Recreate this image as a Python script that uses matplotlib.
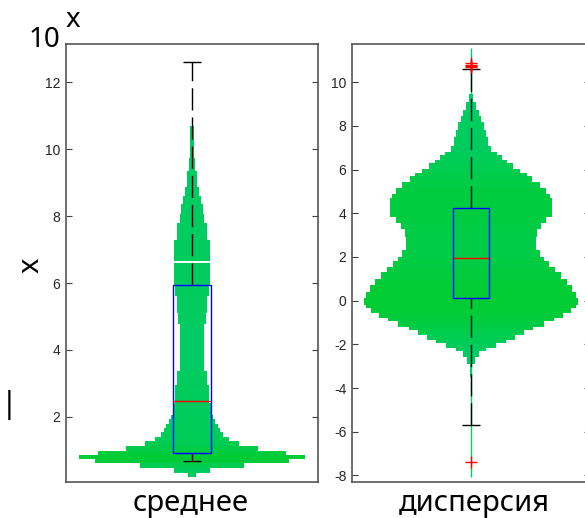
import numpy as np
import matplotlib
matplotlib.use('Agg')
import matplotlib.pyplot as plt

plt.rcParams['axes.unicode_minus'] = False
plt.rcParams['font.family'] = ['Liberation Sans', 'DejaVu Sans']

# "среднее": ступенчатая гистограмма (границы бинов и плотность)
mean_edges = [0.20, 0.32, 0.47, 0.62, 0.74, 0.86, 0.98, 1.14, 1.28, 1.41, 1.55,
              1.67, 1.79, 1.94, 2.06, 2.40, 2.96, 3.36, 4.78, 5.11, 5.60, 5.90,
              7.28, 7.80, 8.08, 8.37, 8.59, 8.87, 9.34, 9.74, 10.71]
mean_density = [4, 17.7, 52, 97, 113, 94, 66, 47, 36.5, 31, 28, 26, 23, 21, 19,
                17.3, 15, 12, 13.7, 15.3, 16.7, 17.7, 14.5, 12.3, 10.5, 9, 7.3,
                5, 2.7, 1.5]
mean_box = (0.92, 2.47, 5.94)      # q1, медиана, q3
mean_whiskers = (0.67, 12.62)
mean_mean = 6.64
mean_outliers = []

# "дисперсия"
var_edges = [-3.5, -2.9, -2.6, -2.3, -2.15, -1.95, -1.8, -1.55, -1.35, -1.2,
             -0.95, -0.8, -0.55, -0.35, -0.2, 0.1, 0.4, 0.7, 1.0, 1.3, 1.55,
             1.8, 2.0, 2.3, 2.9, 3.3, 3.55, 3.85, 4.7, 4.9, 5.15, 5.45, 5.7,
             5.85, 6.05, 6.3, 6.45, 6.65, 6.8, 7.1, 7.5, 7.8, 8.2, 8.45, 8.75,
             9.1, 9.45]
var_density = [1.5, 4, 8, 15, 25, 35, 44, 53, 63, 74, 84, 93, 101, 106, 108,
               106, 102, 97, 91, 85, 79, 74, 70, 65.5, 67, 71, 76, 82, 80, 76,
               70, 62, 56, 49, 42, 36, 31, 26, 20, 17, 15, 13, 10.5, 8, 5.5, 2.5]
var_box = (0.11, 1.94, 4.26)
var_whiskers = (-5.69, 10.6)
var_range = (-8.05, 11.55)
var_outliers = [10.68, 10.74, 10.8, 10.86, -7.37]

LIGHT = np.array([0.0, 0.80, 0.40])
DARK = np.array([0.0, 0.80, 0.20])
GREEN = (0.0, 0.80, 0.40)


def draw_violin(ax, edges, dens, box, whiskers, outliers, data_range=None, mean=None):
    edges = np.array(edges)
    dens = np.array(dens)
    rel = dens / dens.max()
    hw = rel * 0.9
    colors = [tuple(LIGHT + (DARK - LIGHT) * r) for r in rel]
    if data_range is not None:
        ax.vlines(0, data_range[0], data_range[1], color=GREEN, lw=1.0, zorder=1)
    ax.barh(edges[:-1], 2 * hw, height=np.diff(edges), left=-hw, align='edge',
            color=colors, linewidth=0, zorder=2)
    if mean is not None:
        i = np.searchsorted(edges, mean) - 1
        ax.hlines(mean, -hw[i], hw[i], color='white', lw=1.4, zorder=3)

    q1, med, q3 = box
    lo, hi = whiskers
    bw = 0.15
    cw = 0.075
    dash = (0, (16, 5))
    ax.vlines(0, q3, hi, color='black', lw=1.0, linestyles=[dash], zorder=4)
    ax.vlines(0, lo, q1, color='black', lw=1.0, linestyles=[dash], zorder=4)
    ax.hlines([lo, hi], -cw, cw, color='black', lw=1.0, zorder=4)
    ax.add_patch(plt.Rectangle((-bw, q1), 2 * bw, q3 - q1, fill=False,
                               edgecolor='#0000ff', lw=1.0, zorder=5))
    ax.hlines(med, -bw, bw, color='red', lw=1.0, zorder=6)
    if outliers:
        ax.plot(np.zeros(len(outliers)), outliers, '+', color='red', ms=9,
                mew=1.0, zorder=7)


def style_axes(ax, ylim, ticks):
    ax.set_xlim(-1, 1)
    ax.set_ylim(*ylim)
    ax.set_xticks([])
    ax.set_yticks(ticks)
    ax.tick_params(axis='y', direction='in', length=4, width=0.8, left=True,
                   right=True, labelsize=10, labelcolor='#262626',
                   color='#404040', pad=4)
    for s in ax.spines.values():
        s.set_color('#555555')
        s.set_linewidth(1.2)


W, H = 585, 518
fig = plt.figure(figsize=(W / 100, H / 100), dpi=100)

ax1 = fig.add_axes([66 / W, 36 / H, 252 / W, 438 / H])
draw_violin(ax1, mean_edges, mean_density, mean_box, mean_whiskers,
            mean_outliers, mean=mean_mean)
style_axes(ax1, (0.05, 13.15), [2, 4, 6, 8, 10, 12])

ax2 = fig.add_axes([352 / W, 36 / H, 238 / W, 438 / H])
draw_violin(ax2, var_edges, var_density, var_box, var_whiskers,
            var_outliers, data_range=var_range)
style_axes(ax2, (-8.3, 11.75), [-8, -6, -4, -2, 0, 2, 4, 6, 8, 10])

lab = dict(family=['Noto Sans', 'DejaVu Sans'], color='black')
fig.text(191 / W, 7 / H, 'среднее', ha='center', va='baseline', fontsize=21, **lab)
fig.text(474 / W, 7 / H, 'дисперсия', ha='center', va='baseline', fontsize=21, **lab)
fig.text(29 / W, (H - 47) / H, '10', ha='left', va='baseline', fontsize=20, **lab)
fig.text(66 / W, (H - 27) / H, 'x', ha='left', va='baseline', fontsize=20, **lab)
fig.text(31 / W, (H - 265) / H, 'x', rotation=90, ha='center', va='center',
         fontsize=21, **lab)
fig.text(0.001, (H - 405) / H, '|', ha='left', va='center', fontsize=22,
         fontweight='bold', **lab)

fig.savefig('out.png', dpi=100)
